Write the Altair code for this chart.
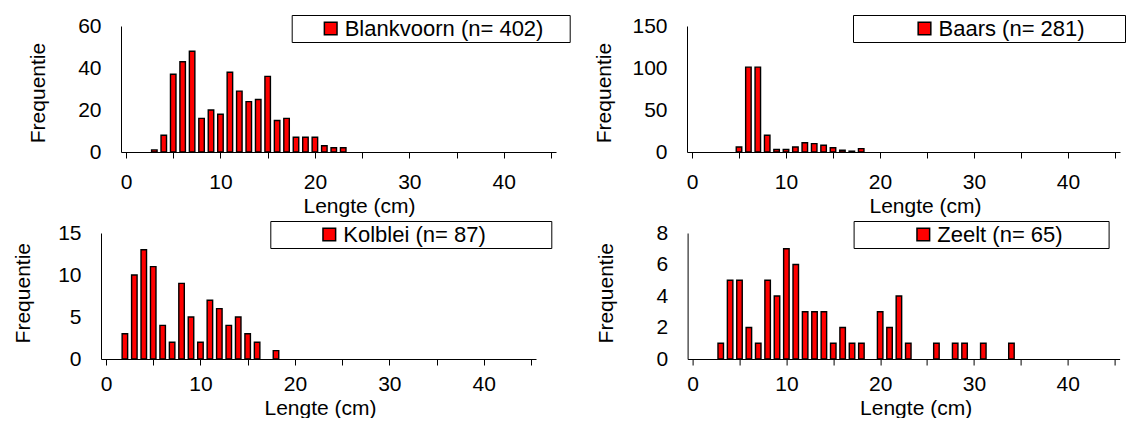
import altair as alt
import pandas as pd

FONT = "Liberation Sans"

# ---- data ----
blank_len = [3, 4, 5, 6, 7, 8, 9, 10, 11, 12, 13, 14, 15, 16, 17, 18, 19, 20, 21, 22, 23]
blank_cnt = [1, 8, 37, 43, 48, 16, 20, 18, 38, 29, 24, 25, 36, 15, 16, 7, 7, 7, 3, 2, 2]

baars_len = [5, 6, 7, 8, 9, 10, 11, 12, 13, 14, 15, 16, 17, 18]
baars_cnt = [6, 101, 101, 20, 3, 3, 6, 11, 10, 8, 5, 2, 1, 4]

kolblei_len = [2, 3, 4, 5, 6, 7, 8, 9, 10, 11, 12, 13, 14, 15, 16, 18]
kolblei_cnt = [3, 10, 13, 11, 4, 2, 9, 5, 2, 7, 6, 4, 5, 3, 2, 1]

zeelt_len = [3, 4, 5, 6, 7, 8, 9, 10, 11, 12, 13, 14, 15, 16, 17, 18, 20, 21, 22, 23, 26, 28, 29, 31, 34]
zeelt_cnt = [1, 5, 5, 2, 1, 5, 4, 7, 6, 3, 3, 3, 1, 2, 1, 1, 3, 2, 4, 1, 1, 1, 1, 1, 1]

labels = ["Blankvoorn (n= 402)", "Baars (n= 281)", "Kolblei (n= 87)", "Zeelt (n= 65)"]
y_ticks = [[0, 20, 40, 60], [0, 50, 100, 150], [0, 5, 10, 15], [0, 2, 4, 6, 8]]
x_ticks = [0, 5, 10, 15, 20, 25, 30, 35, 40, 45]


def panel(lengths, counts, label, yvals, width, ytx, yty, xtx, xty, xlp,
          leg_x, leg_y, sym_off, title_pad):
    df = pd.DataFrame({"Lengte": lengths, "Frequentie": counts, "soort": [label] * len(lengths)})
    return (
        alt.Chart(df)
        .mark_bar(size=5.5, stroke="black", strokeWidth=1.4, fill="#ff0000")
        .encode(
            x=alt.X(
                "Lengte:Q",
                scale=alt.Scale(domain=[0, 45], nice=False, zero=True),
                axis=alt.Axis(
                    values=x_ticks,
                    labelExpr="datum.value % 10 === 0 ? datum.label : ''",
                    title="Lengte (cm)",
                    tickSize=6,
                    labelPadding=xlp,
                    titleX=xtx,
                    titleY=xty,
                ),
            ),
            y=alt.Y(
                "Frequentie:Q",
                scale=alt.Scale(domain=[yvals[0], yvals[-1]], nice=False),
                axis=alt.Axis(
                    values=yvals,
                    title="Frequentie",
                    ticks=False,
                    labelPadding=20,
                    titleX=ytx,
                    titleY=yty,
                ),
            ),
            fill=alt.Fill(
                "soort:N",
                scale=alt.Scale(range=["#ff0000"]),
                legend=alt.Legend(
                    title="\u00a0",
                    titleOrient="right",
                    titleFontSize=2,
                    titlePadding=title_pad,
                    orient="none",
                    legendX=leg_x,
                    legendY=leg_y,
                    symbolType="square",
                    symbolSize=160,
                    symbolStrokeColor="black",
                    symbolStrokeWidth=1.5,
                    symbolOffset=sym_off,
                    labelOffset=3,
                    labelFont=FONT,
                    labelFontSize=22,
                    labelColor="black",
                    labelLimit=400,
                    padding=2.5,
                    strokeColor="black",
                    fillColor="white",
                ),
            ),
        )
        .properties(width=width, height=126)
    )


p1 = panel(blank_len, blank_cnt, labels[0], y_ticks[0], 435, -72.3, 66.5, 238, 43, 13,
           170.7, -11, 25.5, 23.5)
p2 = panel(baars_len, baars_cnt, labels[1], y_ticks[1], 433, -72.3, 66.5, 238, 43, 13,
           166, -11, 58, 38)
p3 = panel(kolblei_len, kolblei_cnt, labels[2], y_ticks[2], 435, -67.3, 59.7, 219, 38, 8,
           169.3, -12, 45.5, 62.8)
p4 = panel(zeelt_len, zeelt_cnt, labels[3], y_ticks[3], 432, -70.9, 59.7, 228, 38, 8,
           166, -12, 56.2, 43)

# invisible spacer cell that shifts the upper row to the right
spacer = (
    alt.Chart(pd.DataFrame({"s": [0]}))
    .mark_point(opacity=0, size=1)
    .encode(
        x=alt.X("s:Q", axis=None, scale=alt.Scale(domain=[0, 1])),
        y=alt.Y("s:Q", axis=None, scale=alt.Scale(domain=[0, 1])),
    )
    .properties(width=20, height=1)
)


def indep(c):
    return c.resolve_scale(fill="independent").resolve_legend(fill="independent")


pair1 = indep(alt.hconcat(p1, p2, spacing=131, bounds="flush"))
row1 = indep(alt.hconcat(spacer, pair1, spacing=0, bounds="flush"))
row2 = indep(alt.hconcat(p3, p4, spacing=151.6, bounds="flush"))

chart = (
    indep(alt.vconcat(row1, row2, spacing=207, bounds="flush"))
    .properties(padding={"left": 4, "top": 6, "right": 0, "bottom": 0})
    .configure_view(stroke=None)
    .configure_axis(
        grid=False,
        domainColor="black",
        domainWidth=1,
        tickColor="black",
        tickWidth=1,
        labelFont=FONT,
        labelFontSize=21,
        labelColor="black",
        titleFont=FONT,
        titleFontSize=21,
        titleFontWeight="normal",
        titleColor="black",
    )
)

chart.save("out.html", embed_options={"renderer": "svg", "actions": False})
